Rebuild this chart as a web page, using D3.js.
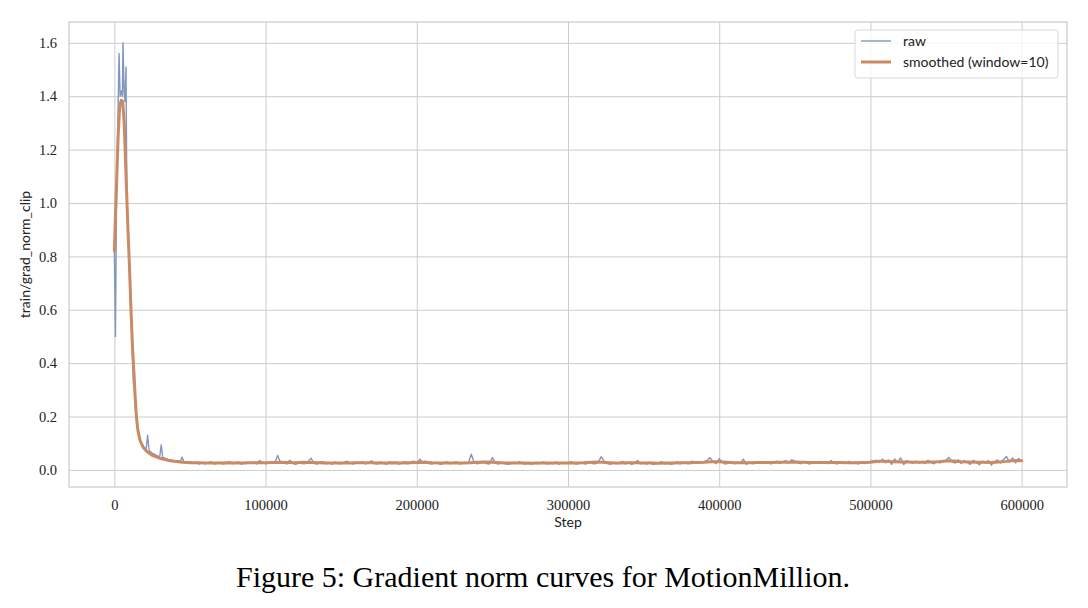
<!DOCTYPE html>
<html lang="en">
<head>
    <meta charset="UTF-8">
    <title>Gradient norm curves</title>
    <script src="https://d3js.org/d3.v7.min.js"></script>
    <style>
        body { margin: 0; background: #fff; }
        .tick text { font-family: "Liberation Serif", serif; font-size: 14.5px; fill: #222; }
        .axis-label { font-family: "Lato", "DejaVu Sans", sans-serif; font-size: 14px; fill: #222; }
        .legend text { font-family: "Lato", "DejaVu Sans", sans-serif; font-size: 14px; fill: #222; }
        .caption { font-family: "Liberation Serif", serif; font-size: 30px; fill: #000; }
    </style>
</head>
<body>
<div id="chart"></div>
<script>
    // raw log, early part (irregular steps around the spike)
    const earlySteps = [0, 700, 1500, 2300, 3100, 3800, 4600, 5300, 5700, 6400,
        7000, 7700, 8300, 9000, 10000, 11000, 12000, 12600, 13200, 14000,
        15000, 16000, 17000, 18000, 19000, 20000, 21000, 22000, 23000, 24000,
        25000, 26000, 27000, 28000, 29000, 30000, 31000, 32000, 33000, 34000,
        36000, 38000, 40000, 42000, 44000, 44700, 46000, 48000];
    const earlyRaw = [0.82, 0.50, 1.05, 1.30, 1.56, 1.40, 1.42, 1.40, 1.60, 1.42,
        1.38, 1.51, 0.98, 0.92, 0.76, 0.58, 0.42, 0.32, 0.31, 0.22,
        0.17, 0.13, 0.11, 0.095, 0.088, 0.082, 0.078, 0.13, 0.072, 0.068,
        0.063, 0.060, 0.057, 0.054, 0.052, 0.050, 0.094, 0.047, 0.045, 0.042,
        0.038, 0.036, 0.034, 0.033, 0.035, 0.048, 0.031, 0.030];

    // raw log after step 50000, one value every 2000 steps
    const rawStart = 50000, rawEvery = 2000;
    const steadyRaw = [
        .031, .024, .029, .022, .028, .023, .027, .030, .022, .026,
        .029, .022, .026, .031, .023, .027, .030, .021, .026, .029,
        .024, .030, .022, .035, .028, .023, .026, .030, .025, .054,
        .026, .029, .022, .036, .025, .021, .029, .024, .023, .030,
        .044, .025, .022, .029, .031, .023, .027, .021, .030, .024,
        .023, .029, .033, .025, .022, .029, .024, .031, .022, .027,
        .034, .024, .022, .030, .025, .021, .031, .024, .029, .022,
        .025, .031, .022, .029, .033, .024, .040, .030, .033, .024,
        .022, .029, .025, .021, .027, .030, .023, .026, .031, .022,
        .025, .029, .024, .059, .028, .023, .026, .030, .024, .022,
        .046, .025, .022, .030, .024, .021, .023, .029, .025, .031,
        .024, .022, .029, .021, .027, .023, .026, .030, .022, .025,
        .023, .030, .021, .027, .024, .026, .031, .024, .022, .029,
        .025, .022, .030, .024, .023, .029, .050, .031, .024, .021,
        .029, .023, .026, .032, .022, .028, .021, .025, .035, .023,
        .026, .022, .029, .021, .023, .027, .031, .022, .025, .021,
        .024, .031, .022, .029, .025, .023, .033, .028, .031, .024,
        .031, .036, .046, .030, .024, .042, .029, .022, .026, .031,
        .023, .029, .025, .040, .021, .029, .023, .026, .031, .028,
        .024, .031, .022, .029, .033, .025, .030, .035, .026, .038,
        .033, .027, .023, .032, .026, .022, .031, .024, .032, .026,
        .030, .023, .035, .026, .022, .031, .024, .027, .032, .024,
        .028, .022, .030, .024, .027, .032, .034, .036, .029, .040,
        .027, .037, .021, .041, .029, .045, .020, .035, .028, .025,
        .033, .026, .032, .024, .036, .028, .023, .033, .026, .031,
        .037, .047, .030, .026, .038, .024, .035, .028, .021, .036,
        .029, .019, .033, .025, .035, .018, .031, .037, .026, .039,
        .050, .029, .045, .026, .043, .033];

    // smoothed (window=10), early part
    const smoothEarlySteps = [0, 700, 1500, 2500, 3500, 4500, 5500, 6500, 7500, 8300,
        9000, 10000, 11000, 12000, 13000, 13800, 14600, 15500, 17000, 19000,
        21500, 25000, 30000, 37000, 45000, 50000];
    const smoothEarly = [0.82, 0.95, 1.08, 1.25, 1.36, 1.385, 1.38, 1.30, 1.14, 1.01,
        0.90, 0.76, 0.60, 0.46, 0.36, 0.27, 0.20, 0.15, 0.11, 0.085,
        0.069, 0.055, 0.044, 0.034, 0.029, 0.027];

    // smoothed after step 55000, one value every 5000 steps
    const smoothStart = 55000, smoothEvery = 5000;
    const steadySmooth = [
        .027, .026, .026, .026, .027, .026, .026, .027, .027, .027,
        .028, .029, .028, .027, .029, .028, .027, .026, .026, .026,
        .026, .027, .027, .027, .026, .026, .027, .026, .027, .028,
        .029, .027, .026, .026, .026, .026, .027, .029, .030, .029,
        .027, .026, .026, .026, .025, .026, .026, .026, .026, .026,
        .026, .027, .029, .030, .028, .026, .026, .027, .027, .026,
        .026, .025, .026, .026, .027, .027, .028, .029, .031, .031,
        .029, .027, .027, .027, .028, .028, .028, .029, .029, .030,
        .029, .028, .028, .028, .028, .028, .027, .027, .028, .029,
        .032, .032, .031, .030, .030, .029, .029, .030, .031, .033,
        .033, .031, .030, .029, .029, .028, .030, .032, .035, .034];

    const xTicks = [0, 100000, 200000, 300000, 400000, 500000, 600000];
    const yTicks = [0.0, 0.2, 0.4, 0.6, 0.8, 1.0, 1.2, 1.4, 1.6];

    const rawData = earlySteps.map((s, i) => ({ step: s, value: earlyRaw[i] }))
        .concat(steadyRaw.map((v, i) => ({ step: rawStart + i * rawEvery, value: v })));
    const smoothData = smoothEarlySteps.map((s, i) => ({ step: s, value: smoothEarly[i] }))
        .concat(steadySmooth.map((v, i) => ({ step: smoothStart + i * smoothEvery, value: v })));

    const W = 1088, H = 608;
    const margin = { top: 22, right: 21, bottom: 121, left: 69 },
          width = W - margin.left - margin.right,
          height = H - margin.top - margin.bottom;

    const root = d3.select("#chart").append("svg")
        .attr("width", W)
        .attr("height", H);

    const svg = root.append("g")
        .attr("transform", `translate(${margin.left},${margin.top})`);

    const x = d3.scaleLinear().domain([-30000, 630000]).range([0, width]);
    const y = d3.scaleLinear().domain([-0.064, 1.678]).range([height, 0]);

    const gridColor = "#cccccc";

    // x axis + vertical grid
    const gx = svg.append("g")
        .attr("transform", `translate(0,${height})`)
        .call(d3.axisBottom(x).tickValues(xTicks).tickFormat(d3.format("d"))
            .tickSizeInner(-height).tickSizeOuter(0).tickPadding(13));
    gx.select(".domain").remove();
    gx.selectAll(".tick line").attr("stroke", gridColor).attr("stroke-width", 1);

    // y axis + horizontal grid
    const gy = svg.append("g")
        .call(d3.axisLeft(y).tickValues(yTicks).tickFormat(d3.format(".1f"))
            .tickSizeInner(-width).tickSizeOuter(0).tickPadding(12));
    gy.select(".domain").remove();
    gy.selectAll(".tick line").attr("stroke", gridColor).attr("stroke-width", 1);

    const line = d3.line()
        .x(d => x(d.step))
        .y(d => y(d.value));

    svg.append("path")
        .datum(rawData)
        .attr("fill", "none")
        .attr("stroke", "#8197bf")
        .attr("stroke-width", 1.4)
        .attr("stroke-linejoin", "round")
        .attr("d", line);

    svg.append("path")
        .datum(smoothData)
        .attr("fill", "none")
        .attr("stroke", "#c98a64")
        .attr("stroke-width", 3)
        .attr("stroke-linejoin", "round")
        .attr("stroke-linecap", "round")
        .attr("d", line);

    // spines
    svg.append("rect")
        .attr("width", width)
        .attr("height", height)
        .attr("fill", "none")
        .attr("stroke", gridColor)
        .attr("stroke-width", 1.25);

    // axis labels
    svg.append("text")
        .attr("class", "axis-label")
        .attr("x", x(300000))
        .attr("y", height + 40)
        .attr("text-anchor", "middle")
        .text("Step");

    svg.append("text")
        .attr("class", "axis-label")
        .attr("transform", `translate(${-39},${height / 2}) rotate(-90)`)
        .attr("text-anchor", "middle")
        .text("train/grad_norm_clip");

    // legend
    const legend = svg.append("g")
        .attr("class", "legend")
        .attr("transform", `translate(${width - 212},8)`);

    legend.append("rect")
        .attr("width", 203)
        .attr("height", 48)
        .attr("rx", 3)
        .attr("fill", "#fff")
        .attr("fill-opacity", 0.8)
        .attr("stroke", "#d9d9d9");

    const entries = [
        { name: "raw", color: "#8197bf", w: 1.4 },
        { name: "smoothed (window=10)", color: "#c98a64", w: 3 }
    ];
    entries.forEach((e, i) => {
        const row = legend.append("g").attr("transform", `translate(0,${11 + i * 21})`);
        row.append("line")
            .attr("x1", 6).attr("x2", 36)
            .attr("stroke", e.color)
            .attr("stroke-width", e.w);
        row.append("text")
            .attr("x", 48)
            .attr("dy", "0.35em")
            .text(e.name);
    });

    // caption
    root.append("text")
        .attr("class", "caption")
        .attr("x", 543)
        .attr("y", 587)
        .attr("text-anchor", "middle")
        .text("Figure 5: Gradient norm curves for MotionMillion.");
</script>
</body>
</html>
